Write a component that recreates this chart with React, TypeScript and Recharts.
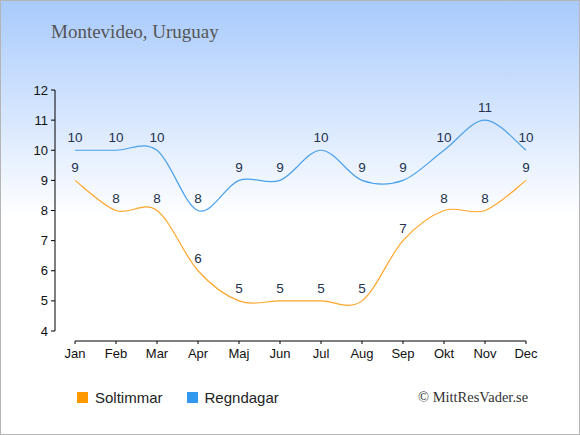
import React from 'react';
import { LineChart, Line, XAxis, YAxis, LabelList } from 'recharts';

const months = ['Jan', 'Feb', 'Mar', 'Apr', 'Maj', 'Jun', 'Jul', 'Aug', 'Sep', 'Okt', 'Nov', 'Dec'];
const soltimmar = [9, 8, 8, 6, 5, 5, 5, 5, 7, 8, 8, 9];
const regndagar = [10, 10, 10, 8, 9, 9, 10, 9, 9, 10, 11, 10];
const yTicks = [4, 5, 6, 7, 8, 9, 10, 11, 12];

const series = [
  { key: 'sol', name: 'Soltimmar', color: '#ff9900', line: '#ffa52a' },
  { key: 'regn', name: 'Regndagar', color: '#3399ee', line: '#4aa0ea' },
];

const data = months.map((m, i) => ({ month: m, sol: soltimmar[i], regn: regndagar[i] }));

const SANS = '"Liberation Sans", Arial, sans-serif';
const SERIF = '"Liberation Serif", "DejaVu Serif", serif';

// catmull-rom style curve (d3 curve interface)
function cardinal(context: any) {
  let pts: number[][] = [];
  const k = 1 / 6;
  return {
    areaStart() {},
    areaEnd() {},
    lineStart() {
      pts = [];
    },
    point(x: number, y: number) {
      pts.push([+x, +y]);
    },
    lineEnd() {
      if (!pts.length) return;
      context.moveTo(pts[0][0], pts[0][1]);
      for (let i = 0; i < pts.length - 1; i++) {
        const p0 = pts[i - 1] || pts[i];
        const p1 = pts[i];
        const p2 = pts[i + 1];
        const p3 = pts[i + 2] || pts[i + 1];
        context.bezierCurveTo(
          p1[0] + (p2[0] - p0[0]) * k,
          p1[1] + (p2[1] - p0[1]) * k,
          p2[0] - (p3[0] - p1[0]) * k,
          p2[1] - (p3[1] - p1[1]) * k,
          p2[0],
          p2[1]
        );
      }
    },
  };
}

function App() {
  return (
    <div
      style={{
        position: 'absolute',
        left: 0,
        top: 0,
        width: 580,
        height: 435,
        background: 'linear-gradient(to bottom, #a8cafc 0%, #ffffff 50%)',
        boxShadow: 'inset 0 0 0 1px #b5b5b5',
      }}
    >
      <div style={{ position: 'absolute', left: 51, top: 21, fontFamily: SERIF, fontSize: 19, color: '#555' }}>
        Montevideo, Uruguay
      </div>
      <div style={{ position: 'absolute', left: 418, top: 389, fontFamily: SERIF, fontSize: 14.5, color: '#333' }}>
        © MittResVader.se
      </div>
      <div style={{ position: 'absolute', left: 77, top: 389, display: 'flex', fontFamily: SANS, fontSize: 15, color: '#222' }}>
        {series.map((s) => (
          <div key={s.key} style={{ display: 'flex', alignItems: 'center', marginRight: 24 }}>
            <span style={{ width: 11, height: 11, background: s.color, display: 'inline-block', marginRight: 7 }} />
            <span>{s.name}</span>
          </div>
        ))}
      </div>
      <LineChart width={580} height={435} data={data} margin={{ top: 90, right: 54, bottom: 64, left: 15 }}>
        <XAxis
          dataKey="month"
          padding={{ left: 20, right: 0 }}
          height={30}
          tickSize={3}
          tickMargin={5}
          axisLine={{ stroke: '#000', strokeDasharray: '0 20 451 1000' }}
          tickLine={{ stroke: '#000' }}
          tick={{ fill: '#111', fontSize: 13, fontFamily: SANS }}
        />
        <YAxis
          domain={[4, 12]}
          ticks={yTicks}
          width={40}
          padding={{ top: 0, bottom: 10 }}
          tickSize={4}
          tickMargin={3}
          axisLine={{ stroke: '#000', strokeDasharray: '241 1000' }}
          tickLine={{ stroke: '#000' }}
          tick={{ fill: '#111', fontSize: 13, fontFamily: SANS }}
        />
        {series.map((s) => (
          <Line
            key={s.key}
            dataKey={s.key}
            name={s.name}
            type={cardinal as any}
            stroke={s.line}
            strokeWidth={1.2}
            dot={false}
            activeDot={false}
            isAnimationActive={false}
          >
            <LabelList dataKey={s.key} position="top" offset={8} fill="#22324f" fontSize={13.5} fontFamily={SANS} />
          </Line>
        ))}
      </LineChart>
    </div>
  );
}

export default App;
